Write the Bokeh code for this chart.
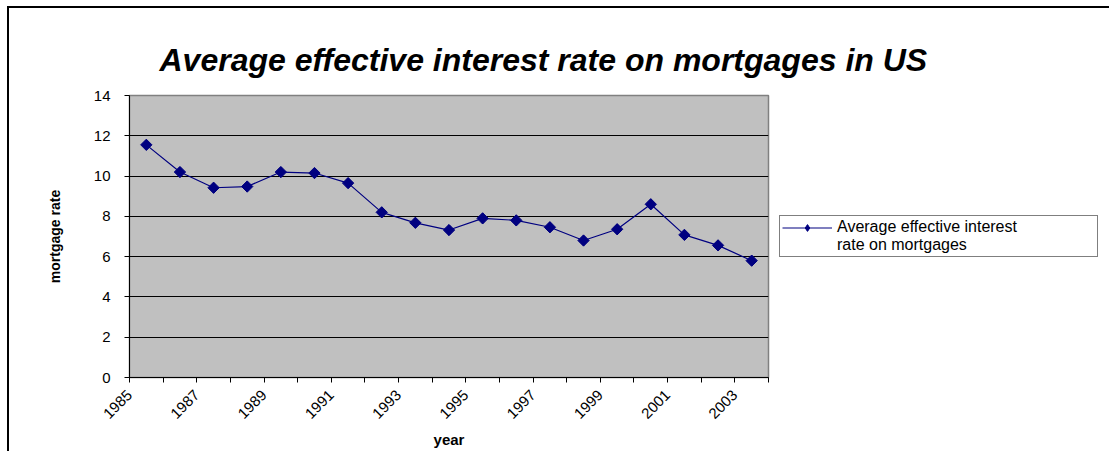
import math
from bokeh.plotting import figure
from bokeh.models import Range1d, FixedTicker, Legend, LegendItem, ColumnDataSource
from bokeh.embed import file_html
from bokeh.resources import INLINE

years = ["1985", "1986", "1987", "1988", "1989", "1990", "1991", "1992", "1993", "1994",
         "1995", "1996", "1997", "1998", "1999", "2000", "2001", "2002", "2003"]
rates = [11.55, 10.2, 9.42, 9.48, 10.2, 10.15, 9.65, 8.2, 7.68, 7.32,
         7.9, 7.8, 7.46, 6.8, 7.36, 8.6, 7.08, 6.56, 5.8]
y_ticks = [0, 2, 4, 6, 8, 10, 12, 14]
legend_lines = ["Average effective interest", "rate on mortgages"]

FONT = "Liberation Sans"
NAVY = "#000080"

idx = list(range(len(years)))
src = ColumnDataSource(dict(x=idx, y=rates))

# canvas is offset by (9, 8) in the page because of the outer border
p = figure(frame_width=639, frame_height=282, output_backend="svg", toolbar_location=None,
           x_range=Range1d(-0.5, len(years) - 0.5), y_range=Range1d(0, 14),
           min_border_left=120, min_border_right=10, min_border_top=87,
           min_border_bottom=74)
p.styles = {"margin-left": "7px", "margin-top": "6px",
            "border-left": "2px solid black", "border-top": "2px solid black",
            "border-right": "none", "border-bottom": "none"}

p.background_fill_color = "#C0C0C0"
p.border_fill_color = "white"
p.outline_line_color = "#808080"
p.outline_line_width = 1.5

# title
p.title.text = "Average effective interest rate on mortgages in US"
p.title.text_font = FONT
p.title.text_font_style = "bold italic"
p.title.text_font_size = "32px"
p.title.text_color = "black"
p.title.align = "left"
p.title.offset = 30
p.title.vertical_align = "top"
p.title.standoff = 32

# x axis: ticks at category boundaries, labels every other category
bounds = [i - 0.5 for i in range(len(years) + 1)]
p.xaxis.ticker = FixedTicker(ticks=bounds)
over = {i - 0.5: (years[i] if i % 2 == 0 else "") for i in range(len(years))}
over[len(years) - 0.5] = ""
p.xaxis.major_label_overrides = over
p.xaxis.major_label_orientation = math.pi / 4
p.xaxis.major_label_text_font = FONT
p.xaxis.major_label_text_font_size = "15px"
p.xaxis.major_label_text_color = "black"
p.xaxis.major_label_standoff = 10
p.xaxis.major_tick_out = 5
p.xaxis.major_tick_in = 0
p.xaxis.minor_tick_line_color = None
p.xaxis.axis_line_color = "black"
p.xaxis.axis_label = "year"
p.xaxis.axis_label_text_font = FONT
p.xaxis.axis_label_text_font_style = "bold"
p.xaxis.axis_label_text_font_size = "15px"
p.xaxis.axis_label_text_color = "black"
p.xaxis.axis_label_standoff = 5

# y axis
p.yaxis.ticker = FixedTicker(ticks=y_ticks)
p.yaxis.major_label_text_font = FONT
p.yaxis.major_label_text_font_size = "15px"
p.yaxis.major_label_text_color = "black"
p.yaxis.major_label_standoff = 14
p.yaxis.major_tick_out = 5
p.yaxis.major_tick_in = 0
p.yaxis.minor_tick_line_color = None
p.yaxis.axis_line_color = "black"
p.yaxis.axis_label = "mortgage rate"
p.yaxis.axis_label_text_font = FONT
p.yaxis.axis_label_text_font_style = "bold"
p.yaxis.axis_label_text_font_size = "14px"
p.yaxis.axis_label_text_color = "black"
p.yaxis.axis_label_standoff = 28

p.xgrid.grid_line_color = None
p.ygrid.grid_line_color = "black"
p.ygrid.grid_line_width = 1

ln = p.line("x", "y", source=src, line_color=NAVY, line_width=1.2)
# diamond markers (hidden beneath the rotated squares) supply the legend glyph
leg_mk = p.scatter("x", "y", source=src, marker="diamond", size=10,
                   fill_color=NAVY, line_color=NAVY)
mk = p.scatter("x", "y", source=src, marker="square", size=8, angle=math.pi / 4,
               fill_color=NAVY, line_color=NAVY)
# invisible renderer for the legend's second text line
blank = p.scatter(x=[], y=[], marker="square", size=1, fill_alpha=0, line_alpha=0)

legend = Legend(items=[LegendItem(label=legend_lines[0], renderers=[ln, leg_mk]),
                       LegendItem(label=legend_lines[1], renderers=[blank])],
                location="center_left")
legend.label_text_font = FONT
legend.label_text_font_size = "16px"
legend.label_text_color = "black"
legend.label_width = 258
legend.label_height = 17
legend.glyph_height = 17
legend.glyph_width = 50
legend.spacing = 0
legend.border_line_color = "black"
legend.border_line_width = 1
legend.padding = 2
legend.margin = 11
legend.background_fill_alpha = 1
p.add_layout(legend, "right")

open("out.html", "w").write(file_html(p, INLINE))
